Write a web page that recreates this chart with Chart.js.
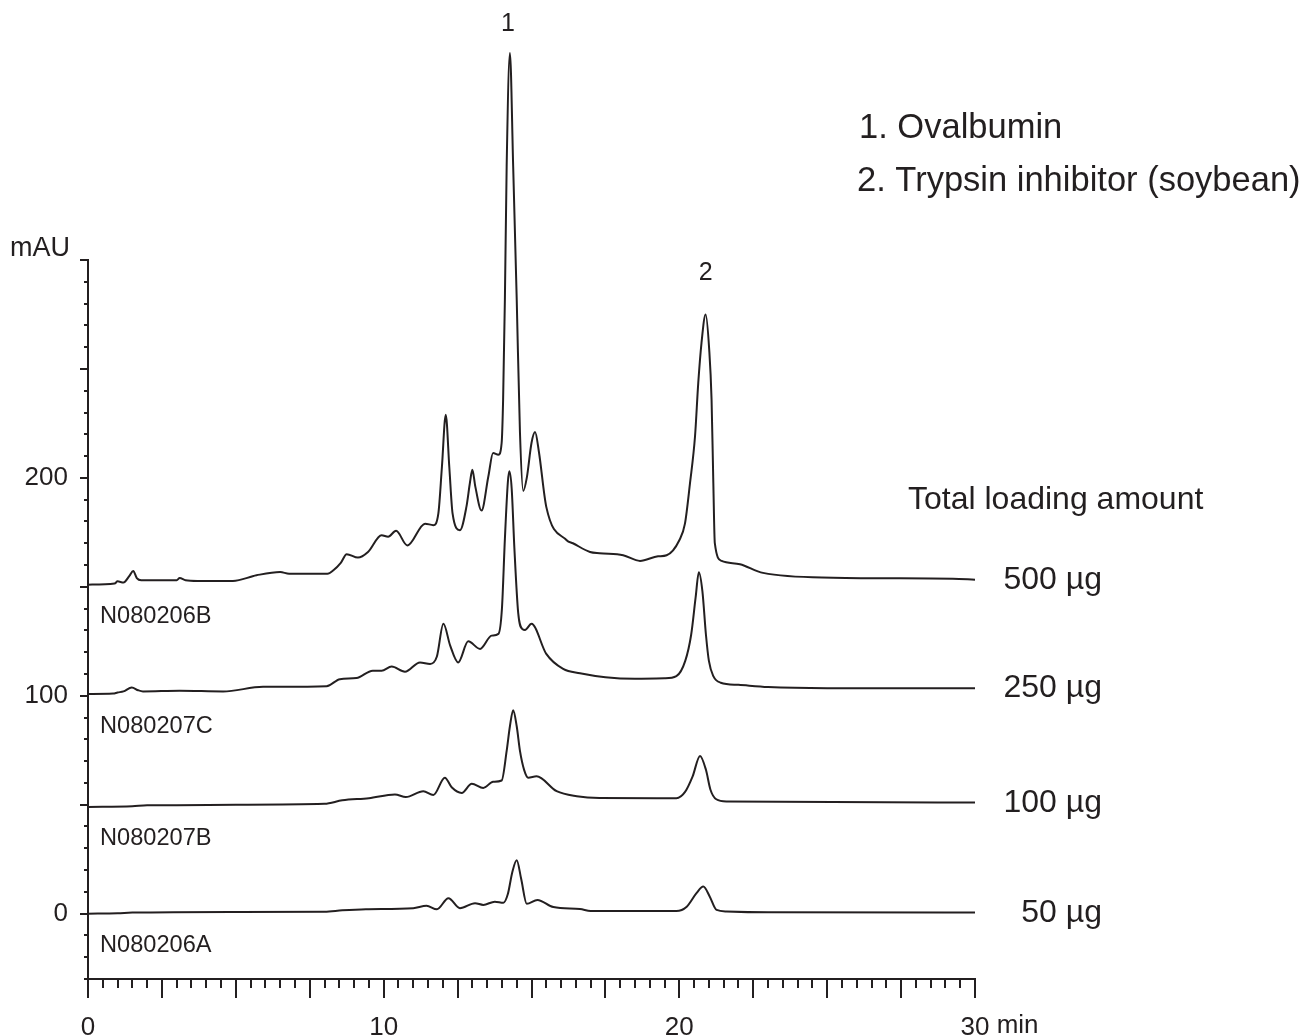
<!DOCTYPE html>
<html>
<head>
<meta charset="utf-8">
<script src="https://cdn.jsdelivr.net/npm/chart.js@4/dist/chart.umd.min.js"></script>
<style>
html,body{margin:0;padding:0;background:#fff;}
#wrap{width:1307px;height:1035px;position:relative;}
canvas{display:block;}
</style>
</head>
<body>
<div id="wrap"><canvas id="c" width="1307" height="1035"></canvas></div>
<script>
// ---- data (retention time in min, absorbance in mAU) ----
const t500 = [0,0.9,1.0,1.2,1.4,1.53,1.65,1.8,2.5,3.0,3.1,3.3,3.7,4.9,5.7,6.5,6.8,8.1,8.3,8.55,8.75,9.13,9.47,9.93,10.15,10.42,10.8,11.4,11.68,11.85,11.97,12.1,12.22,12.33,12.58,12.8,12.92,13.0,13.1,13.31,13.54,13.7,13.88,13.99,14.04,14.1,14.16,14.27,14.38,14.5,14.61,14.72,14.84,15.0,15.12,15.25,15.5,16.19,16.4,16.98,17.3,18.1,18.67,19.28,19.57,20.0,20.19,20.36,20.53,20.64,20.75,20.89,21.01,21.09,21.15,21.2,21.43,22.05,22.83,25.2,29.25,30];
const v500 = [151,151.5,152.5,152,155,157.3,154,153,153,153,154,153,152.7,152.7,155.3,156.8,156,156,157.6,161,165,163.4,166,173.7,173,175.7,169,179,178.3,183.7,205,229,205,183.7,176,186.8,198,203.7,196,185,200.6,211.4,210.6,216,236,282,343,395,343,282,220.7,194,200,216,221,212,186.7,171.4,170,166,165.4,164.5,161.9,164,164.5,171.4,179,197.5,219,243.6,262,275,259,236,197.5,170,161.9,160.4,156.4,154.2,153.7,153.3];

const t250 = [0,0.85,1.0,1.2,1.48,1.7,1.86,3.1,4.57,5.92,8.07,8.52,9.08,9.63,9.93,10.27,10.72,11.23,11.57,11.8,12.02,12.25,12.52,12.86,13.26,13.65,13.88,14.0,14.1,14.2,14.25,14.33,14.42,14.55,14.7,14.78,15.0,15.5,16.07,16.64,17.5,18.5,19.5,19.9,20.2,20.4,20.55,20.66,20.78,20.9,21.0,21.15,21.4,22,23,25,30];
const v250 = [100.8,101,101.5,102,103.8,102.5,102,102.3,102,104.1,104.4,107.6,108.1,111.5,111.5,113.4,111,115.3,114.6,118,133,123,115.3,125,121.5,127.6,128.4,140,172,198,203,195,168,138,130.5,130.2,133,119.2,112.3,110.3,108.5,107.8,108,109,116,128,145,156.7,148,128,116,109,106,105,104,103.5,103.5];

const t100 = [0,1.5,2.0,3.0,5.0,8.0,8.6,9.5,10.38,10.75,11.34,11.68,12.07,12.3,12.64,12.98,13.37,13.7,13.99,14.16,14.27,14.38,14.5,14.61,14.75,14.89,15.17,15.85,16.53,17.3,19.9,20.2,20.45,20.7,20.9,21.05,21.25,21.6,30];
const v100 = [49,49.3,49.8,49.8,50,50.4,52,53,54.7,53.5,56.2,54.5,62.4,58,55.4,59.6,57.7,60.5,61.1,74.7,86,93.4,86,74.7,66,62.4,63,56.2,53.9,53.1,53,56,63,72.4,66,57,52.5,51.5,51];

const t50 = [0,1.0,1.5,5.0,8.0,8.6,9.4,11.0,11.45,11.8,12.19,12.58,13.09,13.37,13.76,14.05,14.2,14.35,14.5,14.65,14.84,15.2,15.74,16.64,17.0,19.9,20.25,20.58,20.81,21.03,21.26,21.6,23,30];
const v50 = [0,0.2,0.5,0.8,0.9,1.5,2.0,2.5,3.6,2.0,7.1,2.5,4.8,4.0,5.5,5.0,9,19,24.5,16,4.5,6.3,3.0,2.1,1.2,1.2,3.2,9.4,12.4,7.8,1.7,1.0,0.6,0.5];

const sampleIds   = ['N080206B','N080207C','N080207B','N080206A'];
const loadAmounts = ['500 µg','250 µg','100 µg','50 µg'];
const peakNames   = ['1. Ovalbumin','2. Trypsin inhibitor (soybean)'];
const peakNumbers = ['1','2'];
const xTickLabels = [0,10,20,30];
const yTickLabels = [0,100,200];

// ---- chart ----
const INK = '#231f20';
const FONT = '"Liberation Sans", Arial, Helvetica, sans-serif';
const traces = [[t500,v500],[t250,v250],[t100,v100],[t50,v50]];

function pts(t, v){ return t.map((x,i)=>({x:x, y:v[i]})); }

const overlay = {
  id:'overlay',
  afterDraw(chart){
    const {ctx, chartArea:a, scales:{x, y}} = chart;
    ctx.save();
    ctx.strokeStyle = INK; ctx.fillStyle = INK; ctx.lineWidth = 2;
    // x tick marks: every 0.5 min, long every 2.5 min
    for (let i = 0; i <= 60; i++) {
      const t = i * 0.5;
      const px = Math.round(x.getPixelForValue(t));
      const len = (i % 5 === 0) ? 19 : 9;
      ctx.beginPath(); ctx.moveTo(px, a.bottom); ctx.lineTo(px, a.bottom + len); ctx.stroke();
    }
    // y tick marks: every 10 mAU, long every 50
    for (let v = -30; v <= 300; v += 10) {
      const py = Math.round(y.getPixelForValue(v));
      const len = (v % 50 === 0) ? 8 : 4;
      ctx.beginPath(); ctx.moveTo(a.left, py); ctx.lineTo(a.left - len, py); ctx.stroke();
    }
    // unit "min" after last x label
    ctx.font = '26px ' + FONT;
    const lastTick = xTickLabels[xTickLabels.length-1];
    const w30 = ctx.measureText(String(lastTick)).width;
    ctx.textAlign = 'left';
    ctx.textBaseline = 'alphabetic';
    ctx.fillText(' min', x.getPixelForValue(lastTick) + w30/2, a.bottom + 54);
    // mAU
    ctx.font = '27px ' + FONT;
    ctx.textAlign = 'right';
    ctx.fillText('mAU', a.left - 18, a.top - 4);
    // sample ids under each trace
    ctx.font = '23.6px ' + FONT;
    ctx.textAlign = 'left'; ctx.textBaseline = 'middle';
    traces.forEach((tr, k) => {
      const py = y.getPixelForValue(tr[1][0]);
      ctx.fillText(sampleIds[k], a.left + 12, py + 32);
    });
    // loading amount at right end of each trace
    ctx.font = '32px ' + FONT;
    ctx.textAlign = 'right'; ctx.textBaseline = 'alphabetic';
    traces.forEach((tr, k) => {
      const py = y.getPixelForValue(tr[1][tr[1].length-1]);
      ctx.fillText(loadAmounts[k], a.right + 127, py + 9);
    });
    ctx.textAlign = 'left';
    ctx.fillText('Total loading amount', a.right - 67, 509);
    // legend of peaks
    ctx.font = '34.5px ' + FONT;
    ctx.fillText(peakNames[0], 859, 138);
    ctx.fillText(peakNames[1], 857, 191);
    // peak numbers above the 500 µg peaks
    ctx.font = '25px ' + FONT;
    ctx.textAlign = 'center';
    const i1 = v500.indexOf(Math.max(...v500));
    ctx.fillText(peakNumbers[0], x.getPixelForValue(t500[i1]) - 2, y.getPixelForValue(v500[i1]) - 22);
    let i2 = 0;
    t500.forEach((t,i)=>{ if (t > 19 && t < 22 && v500[i] > v500[i2]) i2 = i; });
    ctx.fillText(peakNumbers[1], x.getPixelForValue(t500[i2]), y.getPixelForValue(v500[i2]) - 34);
    ctx.restore();
  }
};

new Chart(document.getElementById('c'), {
  type:'line',
  data:{
    datasets: traces.map(tr => ({
      data: pts(tr[0], tr[1]),
      borderColor: INK,
      borderWidth: 2,
      pointRadius: 0,
      fill: false,
      cubicInterpolationMode: 'monotone',
      clip: false
    }))
  },
  options:{
    responsive:false,
    animation:false,
    devicePixelRatio:1,
    layout:{ padding:{ left:0, top:260, right:332, bottom:0 } },
    plugins:{ legend:{display:false}, tooltip:{enabled:false} },
    scales:{
      x:{
        type:'linear', min:0, max:30,
        afterFit(s){ s.height = 56; },
        afterBuildTicks(s){ s.ticks = xTickLabels.map(v=>({value:v})); },
        grid:{ display:false, drawTicks:false },
        border:{ display:true, color:INK, width:2 },
        ticks:{ color:INK, font:{ family:FONT, size:26 }, padding:33, maxRotation:0, autoSkip:false }
      },
      y:{
        type:'linear', min:-30, max:300,
        afterFit(s){ s.width = 88; },
        afterBuildTicks(s){ s.ticks = yTickLabels.map(v=>({value:v})); },
        grid:{ display:false, drawTicks:false },
        border:{ display:true, color:INK, width:2 },
        ticks:{ color:INK, font:{ family:FONT, size:26 }, padding:20, autoSkip:false }
      }
    }
  },
  plugins:[overlay]
});
</script>
</body>
</html>
